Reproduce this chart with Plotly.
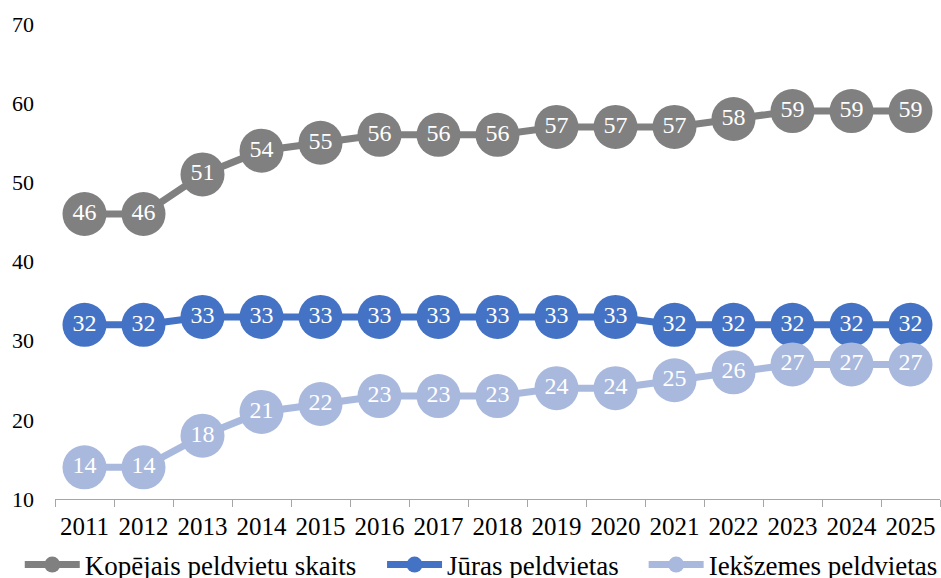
import plotly.graph_objects as go

years = [str(y) for y in range(2011, 2026)]
kopejais = [46, 46, 51, 54, 55, 56, 56, 56, 57, 57, 57, 58, 59, 59, 59]
juras = [32, 32, 33, 33, 33, 33, 33, 33, 33, 33, 32, 32, 32, 32, 32]
iekszemes = [14, 14, 18, 21, 22, 23, 23, 23, 24, 24, 25, 26, 27, 27, 27]

series = [
    ("Kopējais peldvietu skaits", kopejais, "#808080", "legend", 0.021),
    ("Jūras peldvietas", juras, "#4472C4", "legend2", 0.406),
    ("Iekšzemes peldvietas", iekszemes, "#A9B8DD", "legend3", 0.684),
]

FONT = "Liberation Serif"

fig = go.Figure()
legends = {}
for name, vals, col, leg, lx in series:
    fig.add_trace(go.Scatter(
        x=years, y=vals, name=name, mode="lines+markers+text",
        line=dict(color=col, width=7),
        marker=dict(color=col, size=44),
        text=[str(v) for v in vals], textposition="middle center",
        textfont=dict(color="white", size=24, family=FONT),
        cliponaxis=False, legend=leg,
    ))
    legends[leg] = dict(orientation="h", x=lx, xanchor="left", xref="container",
                        y=-0.139, yanchor="middle", yref="paper",
                        bgcolor="rgba(0,0,0,0)",
                        font=dict(size=27, family=FONT, color="black"),
                        itemwidth=55)

fig.update_layout(
    width=941, height=578,
    margin=dict(l=55, r=1, t=24, b=79, autoexpand=False),
    plot_bgcolor="white", paper_bgcolor="white",
    font=dict(family=FONT, size=22, color="black"),
    showlegend=True,
    xaxis=dict(type="category", showline=True, linecolor="#A6A6A6", linewidth=1,
               ticks="outside", tickcolor="#A6A6A6", ticklen=7, showgrid=False,
               tickson="boundaries", tickfont=dict(size=25, family=FONT, color="black"),
               ticklabelstandoff=5, tickangle=0,
               range=[-0.5, 14.5], automargin=False),
    yaxis=dict(range=[10, 70], dtick=10, showgrid=False, zeroline=False,
               showline=False, tickfont=dict(size=22, family=FONT, color="black"),
               ticks="", ticklabelstandoff=20, automargin=False),
    **legends,
)

fig.write_html("out.html", config={"displayModeBar": False},
               post_script="document.body.style.margin='0';document.body.style.overflow='hidden';")
